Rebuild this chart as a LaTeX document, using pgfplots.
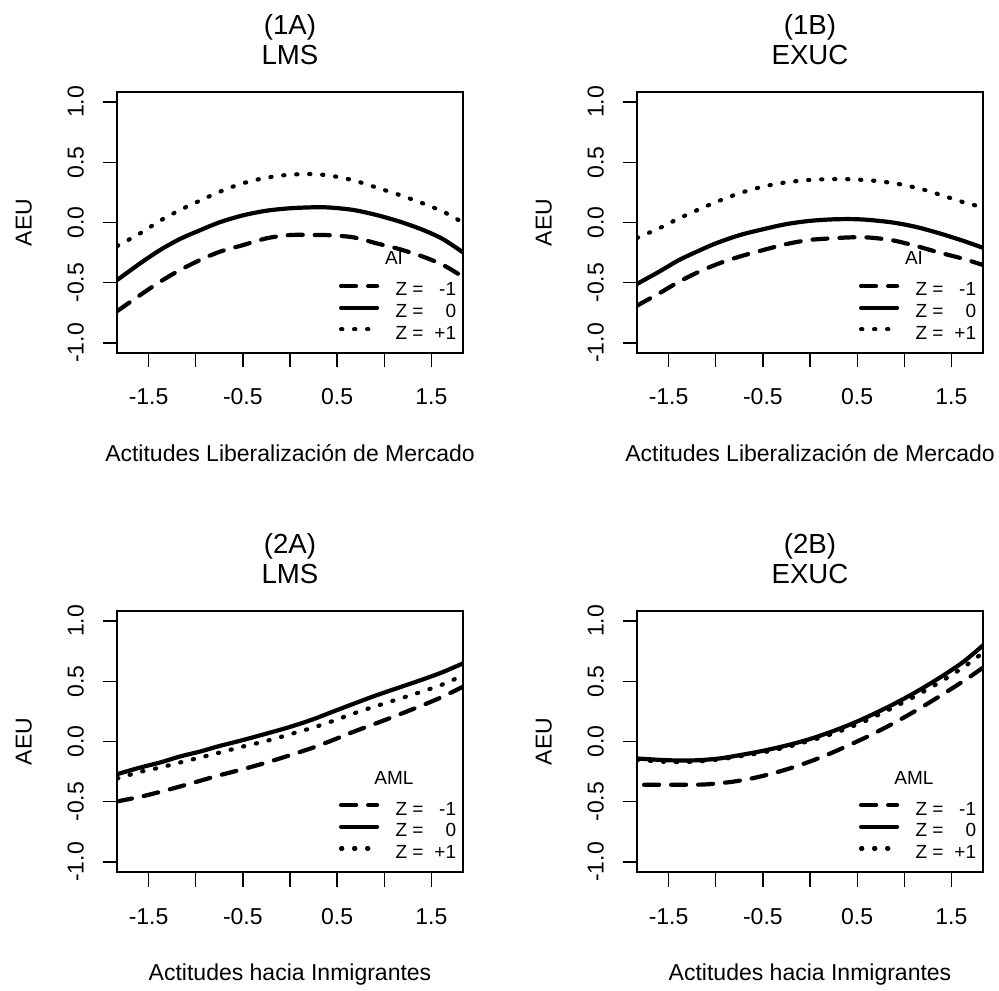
\documentclass[border=0pt]{standalone}
\usepackage{fontspec}
\setmainfont{Liberation Sans}
\usepackage{pgfplots}
\pgfplotsset{compat=1.18}

\newcommand\fmain{\fontsize{11.5}{13.8}\selectfont}
\newcommand\ftitle{\fontsize{13.8}{16.5}\selectfont}
\newcommand\fleg{\fontsize{9.5}{11}\selectfont}

\pgfplotsset{
  rpanel/.style={
    scale only axis, width=173pt, height=130.5pt,
    xmin=-1.835, xmax=1.835, ymin=-1.083, ymax=1.083,
    axis line style={line width=0.65pt},
    every tick/.style={line width=0.65pt, black},
    tick align=outside, major tick length=7.25pt,
    xtick={-1.5,-1,-0.5,0,0.5,1,1.5},
    xticklabels={-1.5,,-0.5,,0.5,,1.5},
    ytick={-1,-0.5,0,0.5,1},
    yticklabels={-1.0,-0.5,0.0,0.5,1.0},
    xtick pos=left, ytick pos=left,
    tick label style={font=\fmain},
    xticklabel style={anchor=base, yshift=-18.75pt},
    yticklabel style={xshift=-9.5pt, rotate=90, anchor=base},
    label style={font=\fmain},
    xlabel style={at={(axis description cs:0.5,-0.4169)}, anchor=base},
    ylabel style={at={(axis description cs:-0.2465,0.5)}, anchor=base},
    ylabel={AEU},
    legend style={draw=none, fill=none, inner sep=0pt, outer sep=0pt,
      at={(axis description cs:0.6416,0.2797)}, anchor=north west,
      font=\fleg, row sep=0pt, column sep=0pt,
      nodes={inner sep=0pt, outer sep=0pt, text height=8pt, text depth=2.85pt}},
    legend cell align=left,
    legend image code/.code={
      \draw[##1] (1pt,2.425pt) -- (19pt,2.425pt);
      \path[draw=none] (0pt,0pt) -- (28.2pt,0pt);},
  },
  zm/.style={black, line width=2.1pt, line cap=round, line join=round, smooth, tension=0.5, dash pattern=on 7.5pt off 6pt},
  zz/.style={black, line width=2.1pt, line cap=round, line join=round, smooth, tension=0.5, solid},
  zp/.style={black, line width=2.1pt, line cap=round, line join=round, smooth, tension=0.5, dash pattern=on 0.6pt off 5.9pt},
}

\newcommand\lm{Z =\makebox[16.3pt][r]{-1}}
\newcommand\lz{Z =\makebox[16.3pt][r]{0}}
\newcommand\lp{Z =\makebox[16.3pt][r]{+1}}

\begin{document}
\begin{tikzpicture}
\path[use as bounding box] (0,0) rectangle (499.5pt,495pt);

% (1A) LMS
\begin{axis}[rpanel, at={(58.5pt,318.5pt)}, anchor=south west,
  xlabel={Actitudes Liberalización de Mercado}]
\addplot[zm] coordinates {(-1.833,-0.735) (-1.589,-0.602) (-1.377,-0.491) (-1.165,-0.394) (-0.953,-0.311) (-0.742,-0.242) (-0.495,-0.187) (-0.247,-0.131) (0.0,-0.104) (0.283,-0.104) (0.424,-0.106) (0.671,-0.123) (0.918,-0.173) (1.165,-0.222) (1.412,-0.284) (1.624,-0.353) (1.833,-0.45)};
\addlegendentry{\lm}
\addplot[zz] coordinates {(-1.833,-0.477) (-1.589,-0.339) (-1.377,-0.228) (-1.165,-0.136) (-0.953,-0.064) (-0.742,0.003) (-0.495,0.060) (-0.247,0.098) (0.0,0.118) (0.247,0.126) (0.424,0.124) (0.671,0.104) (0.918,0.062) (1.165,0.007) (1.412,-0.062) (1.624,-0.139) (1.833,-0.247)};
\addlegendentry{\lz}
\addplot[zp] coordinates {(-1.833,-0.195) (-1.589,-0.090) (-1.377,0.015) (-1.165,0.104) (-0.953,0.182) (-0.742,0.256) (-0.53,0.318) (-0.283,0.367) (-0.035,0.394) (0.212,0.402) (0.424,0.389) (0.671,0.350) (0.918,0.290) (1.165,0.228) (1.377,0.168) (1.624,0.090) (1.833,0.0)};
\addlegendentry{\lp}
\end{axis}

% (1B) EXUC
\begin{axis}[rpanel, at={(318.5pt,318.5pt)}, anchor=south west,
  xlabel={Actitudes Liberalización de Mercado}]
\addplot[zm] coordinates {(-1.835,-0.69) (-1.60,-0.588) (-1.388,-0.491) (-1.175,-0.408) (-0.963,-0.339) (-0.751,-0.284) (-0.503,-0.230) (-0.255,-0.180) (-0.007,-0.145) (0.24,-0.131) (0.452,-0.123) (0.63,-0.125) (0.877,-0.148) (1.125,-0.195) (1.373,-0.250) (1.62,-0.300) (1.835,-0.353)};
\addlegendentry{\lm}
\addplot[zz] coordinates {(-1.835,-0.510) (-1.60,-0.408) (-1.388,-0.311) (-1.175,-0.233) (-0.998,-0.173) (-0.751,-0.106) (-0.503,-0.057) (-0.255,-0.014) (-0.007,0.013) (0.24,0.026) (0.452,0.028) (0.63,0.021) (0.877,0.0) (1.125,-0.037) (1.373,-0.090) (1.62,-0.151) (1.835,-0.210)};
\addlegendentry{\lz}
\addplot[zp] coordinates {(-1.835,-0.128) (-1.60,-0.048) (-1.388,0.035) (-1.175,0.110) (-0.963,0.180) (-0.751,0.242) (-0.503,0.297) (-0.255,0.333) (-0.007,0.353) (0.24,0.360) (0.452,0.358) (0.70,0.345) (0.948,0.318) (1.195,0.275) (1.444,0.214) (1.656,0.162) (1.835,0.126)};
\addlegendentry{\lp}
\end{axis}

% (2A) LMS
\begin{axis}[rpanel, at={(58.5pt,59pt)}, anchor=south west,
  xlabel={Actitudes hacia Inmigrantes}]
\addplot[zm] coordinates {(-1.833,-0.497) (-1.589,-0.459) (-1.377,-0.418) (-1.165,-0.373) (-0.953,-0.326) (-0.742,-0.279) (-0.495,-0.229) (-0.247,-0.174) (0.0,-0.114) (0.247,-0.050) (0.459,0.013) (0.671,0.080) (0.918,0.152) (1.165,0.226) (1.412,0.303) (1.624,0.373) (1.836,0.456)};
\addlegendentry{\lm}
\addplot[zz] coordinates {(-1.833,-0.271) (-1.589,-0.216) (-1.377,-0.174) (-1.165,-0.124) (-0.953,-0.083) (-0.742,-0.036) (-0.495,0.013) (-0.247,0.066) (0.0,0.121) (0.247,0.185) (0.459,0.249) (0.671,0.312) (0.918,0.384) (1.165,0.450) (1.412,0.516) (1.624,0.577) (1.836,0.649)};
\addlegendentry{\lz}
\addplot[zp] coordinates {(-1.833,-0.307) (-1.589,-0.252) (-1.377,-0.216) (-1.165,-0.174) (-0.953,-0.133) (-0.742,-0.091) (-0.495,-0.041) (-0.247,0.005) (0.0,0.060) (0.247,0.116) (0.459,0.171) (0.671,0.232) (0.918,0.295) (1.165,0.356) (1.412,0.417) (1.624,0.475) (1.836,0.549)};
\addlegendentry{\lp}
\end{axis}

% (2B) EXUC
\begin{axis}[rpanel, at={(318.5pt,59pt)}, anchor=south west,
  xlabel={Actitudes hacia Inmigrantes}]
\addplot[zm] coordinates {(-1.76,-0.359) (-1.60,-0.359) (-1.388,-0.359) (-1.175,-0.358) (-1.034,-0.352) (-0.822,-0.334) (-0.609,-0.305) (-0.397,-0.265) (-0.185,-0.216) (0.028,-0.158) (0.24,-0.091) (0.452,-0.017) (0.665,0.062) (0.913,0.163) (1.160,0.273) (1.408,0.392) (1.656,0.516) (1.835,0.613)};
\addlegendentry{\lm}
\addplot[zz] coordinates {(-1.835,-0.141) (-1.60,-0.152) (-1.388,-0.158) (-1.175,-0.155) (-0.963,-0.141) (-0.751,-0.114) (-0.503,-0.078) (-0.255,-0.034) (-0.007,0.019) (0.24,0.085) (0.452,0.150) (0.63,0.212) (0.877,0.306) (1.125,0.411) (1.373,0.528) (1.62,0.657) (1.835,0.798)};
\addlegendentry{\lz}
\addplot[zp] coordinates {(-1.835,-0.152) (-1.60,-0.166) (-1.388,-0.171) (-1.175,-0.165) (-0.963,-0.149) (-0.751,-0.124) (-0.503,-0.091) (-0.255,-0.048) (-0.007,0.005) (0.24,0.064) (0.452,0.127) (0.63,0.185) (0.877,0.280) (1.125,0.380) (1.373,0.490) (1.62,0.612) (1.835,0.737)};
\addlegendentry{\lp}
\end{axis}

% titles
\node[anchor=base, font=\ftitle] at (145pt,477.6pt) {(1A)};
\node[anchor=base, font=\ftitle] at (145pt,462.85pt) {LMS};
\node[anchor=base, font=\ftitle] at (405pt,477.6pt) {(1B)};
\node[anchor=base, font=\ftitle] at (405pt,462.85pt) {EXUC};
\node[anchor=base, font=\ftitle] at (145pt,218.1pt) {(2A)};
\node[anchor=base, font=\ftitle] at (145pt,203.35pt) {LMS};
\node[anchor=base, font=\ftitle] at (405pt,218.1pt) {(2B)};
\node[anchor=base, font=\ftitle] at (405pt,203.35pt) {EXUC};

% legend titles
\node[anchor=base, font=\fleg] at (197pt,362.5pt) {AI};
\node[anchor=base, font=\fleg] at (457pt,362.5pt) {AI};
\node[anchor=base, font=\fleg] at (197pt,103pt) {AML};
\node[anchor=base, font=\fleg] at (457pt,103pt) {AML};
\end{tikzpicture}
\end{document}
